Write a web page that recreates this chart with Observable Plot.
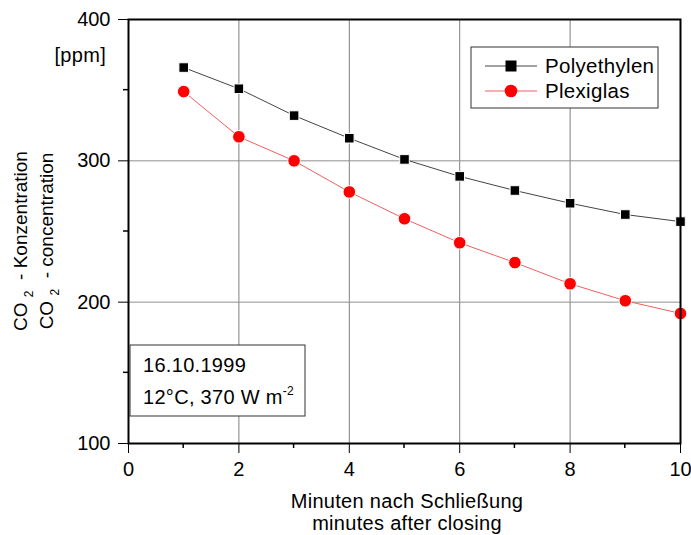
<!DOCTYPE html>
<html><head><meta charset="utf-8">
<script src="https://cdn.jsdelivr.net/npm/d3@7"></script>
<script src="https://cdn.jsdelivr.net/npm/@observablehq/plot@0.6"></script>
<style>
body{margin:0;background:#fff;}
#chart svg{font-family:"Liberation Sans",Arial,sans-serif;}
#chart svg g[aria-label*="axis"] text{font-size:20px;font-family:"Liberation Sans",Arial,sans-serif;fill:#000;}
</style>
</head><body><div id="chart"></div>
<script>
const minutes = [1,2,3,4,5,6,7,8,9,10];
const polyethylen = [366,351,332,316,301,289,279,270,262,257];
const plexiglas = [349,317,300,278,259,242,228,213,201,192];
const seriesNames = ["Polyethylen","Plexiglas"];
const seriesColors = ["#000000","#ff0000"];
const lineColors = ["#444444","#ee6060"];
const xTicks = [0,2,4,6,8,10];
const xMinor = [1,3,5,7,9];
const yTicks = [100,200,300,400];
const yMinor = [150,250,350];
const xGrid = [2,4,6,8];
const yGrid = [200,300];
const yLabels = ["CO", "2", " - Konzentration", " - concentration"];
const xLabels = ["Minuten nach Schließung","minutes after closing"];
const unitLabel = "[ppm]";
const infoLines = ["16.10.1999","12°C, 370 W m","-2"];

const W = 691, H = 535;
const mL = 128, mR = 11, mT = 19, mB = 92;

const polyRows = minutes.map((m,i)=>({m, v: polyethylen[i]}));
const plexRows = minutes.map((m,i)=>({m, v: plexiglas[i]}));

const plot = Plot.plot({
  width: W, height: H,
  marginLeft: mL, marginRight: mR, marginTop: mT, marginBottom: mB,
  style: {fontSize: "20px", fontFamily: "Liberation Sans, Arial, sans-serif", color: "#000", background: "#fff"},
  x: {domain: [0,10], ticks: xTicks, tickSize: 10, tickPadding: 8, label: null, tickFormat: d => String(d)},
  y: {domain: [100,400], ticks: yTicks, tickSize: 10, tickPadding: 8, label: null, tickFormat: d => String(d)},
  marks: [
    Plot.ruleX(xGrid, {stroke: "#808080", strokeWidth: 1}),
    Plot.ruleY(yGrid, {stroke: "#909090", strokeWidth: 1}),
    Plot.line(polyRows, {x: "m", y: "v", stroke: lineColors[0], strokeWidth: 1}),
    Plot.line(plexRows, {x: "m", y: "v", stroke: lineColors[1], strokeWidth: 1}),
    Plot.dot(polyRows, {x: "m", y: "v", symbol: "square", r: 5.4, fill: seriesColors[0], stroke: "#fff", strokeWidth: 1}),
    Plot.dot(plexRows, {x: "m", y: "v", symbol: "circle", r: 6.3, fill: seriesColors[1], stroke: "#fff", strokeWidth: 1}),
    Plot.frame({stroke: "#000", strokeWidth: 2})
  ]
});
document.getElementById("chart").appendChild(plot);

const svg = d3.select(plot);
const sx = plot.scale("x"), sy = plot.scale("y");
const fx = (sx && sx.apply) ? sx.apply : d3.scaleLinear(sx.domain, sx.range);
const fy = (sy && sy.apply) ? sy.apply : d3.scaleLinear(sy.domain, sy.range);
const x0 = fx(0), x1 = fx(10), y0 = fy(100), y1 = fy(400);

function txt(parent, x, y, str, size, anchor) {
  return parent.append("text").attr("x", x).attr("y", y)
    .attr("style", `font-size:${size}px;font-family:'Liberation Sans',Arial,sans-serif;text-anchor:${anchor};fill:#000;letter-spacing:0.3px`)
    .text(str);
}

// minor ticks
const g = svg.append("g");
xMinor.forEach(v => g.append("line").attr("x1", fx(v)).attr("x2", fx(v)).attr("y1", y0).attr("y2", y0 + 5).attr("stroke", "#000").attr("stroke-width", 1.5));
yMinor.forEach(v => g.append("line").attr("y1", fy(v)).attr("y2", fy(v)).attr("x1", x0).attr("x2", x0 - 5).attr("stroke", "#000").attr("stroke-width", 1.5));

// unit label
txt(svg, 106, y1 + 43, unitLabel, 20, "end");

// y axis labels (rotated)
const cy = 241;
[[yLabels[2], 27], [yLabels[3], 53]].forEach(([rest, xx]) => {
  const t = svg.append("text").attr("transform", `translate(${xx},${cy}) rotate(-90)`)
    .attr("style", "font-size:19px;font-family:'Liberation Sans',Arial,sans-serif;text-anchor:middle;fill:#000");
  t.append("tspan").text(yLabels[0] + " ");
  t.append("tspan").attr("style", "font-size:12px").attr("dy", 6).text(yLabels[1]);
  t.append("tspan").attr("dy", -6).text(" " + rest);
});

// x axis labels
const cx = (x0 + x1) / 2 + 3;
txt(svg, cx, 508, xLabels[0], 20, "middle");
txt(svg, cx, 530, xLabels[1], 20, "middle");

// legend
const lg = svg.append("g");
lg.append("rect").attr("x", 471).attr("y", 47).attr("width", 187).attr("height", 61)
  .attr("fill", "#fff").attr("stroke", "#333").attr("stroke-width", 1);
seriesNames.forEach((name, i) => {
  const yy = 66 + i * 25;
  lg.append("line").attr("x1", 485).attr("x2", 537).attr("y1", yy).attr("y2", yy).attr("stroke", lineColors[i]).attr("stroke-width", 1);
  if (i === 0) lg.append("rect").attr("x", 511 - 5.5).attr("y", yy - 5.5).attr("width", 11).attr("height", 11).attr("fill", seriesColors[i]);
  else lg.append("circle").attr("cx", 511).attr("cy", yy).attr("r", 6.3).attr("fill", seriesColors[i]);
  txt(lg, 545, yy + 7, name, 20.5, "start");
});

// info box
const ib = svg.append("g");
ib.append("rect").attr("x", 130).attr("y", 345).attr("width", 175).attr("height", 71)
  .attr("fill", "#fff").attr("stroke", "#333").attr("stroke-width", 1);
txt(ib, 143, 372, infoLines[0], 20, "start");
const t2 = txt(ib, 143, 404, "", 20, "start");
t2.append("tspan").text(infoLines[1]);
t2.append("tspan").attr("style", "font-size:12px").attr("dy", -9).text(infoLines[2]);
</script>
</body></html>
